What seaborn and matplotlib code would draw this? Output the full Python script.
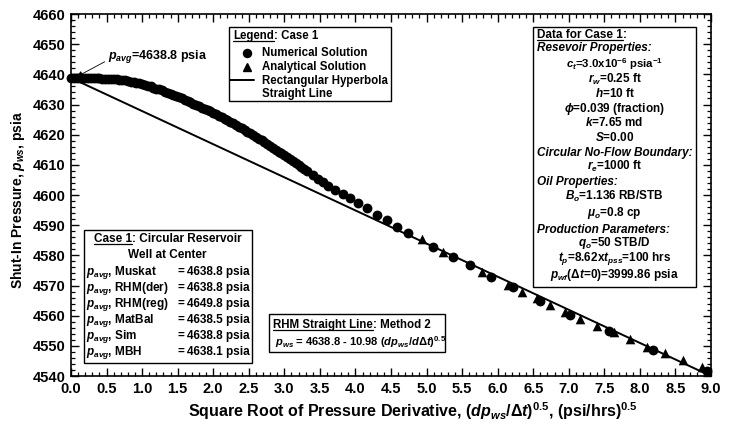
import matplotlib
matplotlib.use("Agg")
import numpy as np
import pandas as pd
import matplotlib.pyplot as plt
import matplotlib.transforms as mtransforms
from matplotlib.lines import Line2D
from matplotlib.patches import Rectangle
from matplotlib.ticker import MultipleLocator, FormatStrFormatter
import seaborn as sns

# Numerical solution: square root of derivative vs shut-in pressure
num_x = [0.00, 0.04, 0.08, 0.12, 0.16, 0.20, 0.24, 0.28, 0.32, 0.36,
         0.40, 0.44, 0.48, 0.52, 0.56, 0.60, 0.64, 0.68, 0.72, 0.76,
         0.80, 0.84, 0.88, 0.92, 0.96, 1.00, 1.04, 1.08, 1.12, 1.16,
         1.20, 1.24, 1.28, 1.32, 1.36, 1.40, 1.44, 1.48, 1.52, 1.56,
         1.60, 1.64, 1.68, 1.72, 1.76, 1.80, 1.84, 1.88, 1.92, 1.96,
         2.00, 2.04, 2.08, 2.12, 2.16, 2.20, 2.24, 2.28, 2.32, 2.36,
         2.40, 2.44, 2.48, 2.52, 2.56, 2.60, 2.64, 2.68, 2.72, 2.76,
         2.80, 2.84, 2.88, 2.92, 2.96, 3.00, 3.04, 3.08, 3.12, 3.16,
         3.20, 3.24, 3.28, 3.32, 3.40, 3.47, 3.54, 3.62, 3.71, 3.82,
         3.92, 4.04, 4.16, 4.30, 4.44, 4.58, 4.74, 5.09, 5.37, 5.61,
         5.90, 6.21, 6.59, 7.02, 7.56, 8.19, 8.95]
num_p = [4638.8, 4638.8, 4638.8, 4638.8, 4638.8, 4638.8, 4638.8, 4638.8, 4638.7, 4638.7,
         4638.7, 4638.6, 4638.5, 4638.5, 4638.4, 4638.3, 4638.3, 4638.2, 4638.1, 4638.0,
         4637.8, 4637.6, 4637.4, 4637.2, 4637.0, 4636.8, 4636.5, 4636.2, 4636.0, 4635.6,
         4635.3, 4635.0, 4634.7, 4634.3, 4633.9, 4633.6, 4633.2, 4632.8, 4632.4, 4632.0,
         4631.6, 4631.2, 4630.8, 4630.3, 4629.9, 4629.5, 4629.0, 4628.6, 4628.1, 4627.7,
         4627.2, 4626.7, 4626.2, 4625.8, 4625.3, 4624.8, 4624.3, 4623.8, 4623.2, 4622.7,
         4622.1, 4621.6, 4621.0, 4620.4, 4619.9, 4619.3, 4618.7, 4618.1, 4617.5, 4616.9,
         4616.3, 4615.7, 4615.0, 4614.4, 4613.8, 4613.1, 4612.5, 4611.8, 4611.2, 4610.5,
         4609.8, 4609.2, 4608.5, 4607.8, 4606.6, 4605.3, 4604.3, 4603.0, 4601.7, 4600.2,
         4598.9, 4597.2, 4595.6, 4593.4, 4591.7, 4589.5, 4587.3, 4582.9, 4579.6, 4576.8,
         4572.9, 4569.4, 4565.0, 4560.2, 4555.0, 4548.6, 4541.6]

# Analytical solution
ana_x = [4.93, 5.23, 5.78, 6.15, 6.34, 6.55, 6.74, 6.95, 7.16, 7.39,
         7.63, 7.86, 8.10, 8.36, 8.61, 8.87]
ana_p = [4585.3, 4581.2, 4574.6, 4570.2, 4568.0, 4565.8, 4563.5, 4561.3, 4558.8, 4556.6,
         4554.7, 4552.2, 4549.7, 4547.5, 4545.3, 4543.1]

# RHM straight line (method 2): p_ws = p_avg - slope * x
p_avg = 4638.8
slope = 10.98
line_x = [0.0, 9.0]

# p_avg estimates by method
methods = ["Muskat", "RHM(der)", "RHM(reg)", "MatBal", "Sim", "MBH"]
method_pavg = [4638.8, 4638.8, 4649.8, 4638.5, 4638.8, 4638.1]

num_df = pd.DataFrame({"x": num_x, "p": num_p})
ana_df = pd.DataFrame({"x": ana_x, "p": ana_p})
line_df = pd.DataFrame({"x": line_x, "p": [p_avg - slope * v for v in line_x]})

sns.set_theme(style="ticks")
plt.rcParams["font.family"] = ["Liberation Sans", "DejaVu Sans"]
plt.rcParams["font.weight"] = "bold"
plt.rcParams["mathtext.fontset"] = "custom"
plt.rcParams["mathtext.rm"] = "Liberation Sans:bold"
plt.rcParams["mathtext.bf"] = "Liberation Sans:bold"
plt.rcParams["mathtext.it"] = "Liberation Sans:bold:italic"
plt.rcParams["mathtext.sf"] = "Liberation Sans:bold"

W, H = 730, 424
fig = plt.figure(figsize=(W / 100, H / 100), dpi=100)
fig.patch.set_facecolor("white")
ax = fig.add_axes([71 / W, 1 - 376 / H, 640 / W, 362 / H])
# pixel coordinates measured from the top-left corner of the figure
pix = mtransforms.Affine2D().scale(1 / W, -1 / H).translate(0, 1) + fig.transFigure

sns.lineplot(data=line_df, x="x", y="p", ax=ax, color="black", linewidth=1.4, zorder=2)
sns.scatterplot(data=ana_df, x="x", y="p", ax=ax, marker="^", s=48, color="black",
                edgecolor="black", linewidth=0, zorder=3, clip_on=False)
sns.scatterplot(data=num_df, x="x", y="p", ax=ax, marker="o", s=50, color="black",
                edgecolor="black", linewidth=0, zorder=4, clip_on=False)

ax.set_xlim(0, 9)
ax.set_ylim(4540, 4660)
ax.xaxis.set_major_locator(MultipleLocator(0.5))
ax.xaxis.set_minor_locator(MultipleLocator(0.1))
ax.yaxis.set_major_locator(MultipleLocator(10))
ax.yaxis.set_minor_locator(MultipleLocator(2))
ax.xaxis.set_major_formatter(FormatStrFormatter("%.1f"))
ax.tick_params(which="both", direction="in", top=True, right=True, bottom=True, left=True,
               color="black", labelsize=10.5, labelcolor="black")
ax.tick_params(which="major", length=5.5, width=1.0, pad=4)
ax.tick_params(which="minor", length=2.8, width=0.9)
for sp in ax.spines.values():
    sp.set_color("black")
    sp.set_linewidth(1.2)
    sp.set_visible(True)

ax.set_xlabel(r"Square Root of Pressure Derivative, $(dp_{ws}/\Delta t)^{0.5}$, (psi/hrs)$^{0.5}$",
              fontsize=11.5, fontweight="bold", color="black")
ax.xaxis.set_label_coords((413 - 71) / 640, -0.068)
ax.set_ylabel(r"Shut-In Pressure, $p_{ws}$, psia", fontsize=10, fontweight="bold",
              color="black")
ax.yaxis.set_label_coords(-0.068, 0.485)

renderer = fig.canvas.get_renderer()


def text_width(s, size, style="normal"):
    t = fig.text(0, 0, s, fontsize=size, fontweight="bold", fontstyle=style)
    w = t.get_window_extent(renderer).width
    t.remove()
    return w


def underlined(x, y, first, rest, size, ha="left", style="normal"):
    """Draw `first` underlined followed by `rest`, baseline at pixel y."""
    w1 = text_width(first, size, style)
    if ha == "center":
        x = x - text_width(first + rest, size, style) / 2
    fig.text(x, y, first, transform=pix, fontsize=size, fontweight="bold",
             fontstyle=style, va="baseline", ha="left", color="black", zorder=6)
    fig.text(x + w1, y, rest, transform=pix, fontsize=size, fontweight="bold",
             fontstyle=style, va="baseline", ha="left", color="black", zorder=6)
    fig.add_artist(Line2D([x, x + w1], [y + 1.8, y + 1.8], transform=pix,
                          color="black", linewidth=0.9, zorder=6))


def box(x0, y0, x1, y1):
    fig.add_artist(Rectangle((x0, y0), x1 - x0, y1 - y0, transform=pix, facecolor="white",
                             edgecolor="black", linewidth=1.0, zorder=5))


def txt(x, y, s, size=8.5, ha="left", style="normal"):
    fig.text(x, y, s, transform=pix, fontsize=size, fontweight="bold", fontstyle=style,
             ha=ha, va="baseline", color="black", zorder=6)


fs = 8.5

# Legend box
box(229, 27, 391, 101)
underlined(233, 39, "Legend", ": Case 1", 8.3)
fig.add_artist(Line2D([247], [53], transform=pix, marker="o", markersize=5.8,
                      color="black", linestyle="none", zorder=6))
fig.add_artist(Line2D([247], [67], transform=pix, marker="^", markersize=6.3,
                      color="black", linestyle="none", zorder=6))
fig.add_artist(Line2D([230, 254], [80, 80], transform=pix, color="black",
                      linewidth=1.4, zorder=6))
txt(262, 56, "Numerical Solution", 8.3)
txt(262, 70, "Analytical Solution", 8.3)
txt(262, 84, "Rectangular Hyperbola", 8.3)
txt(262, 97, "Straight Line", 8.3)

# Case data box
box(533, 27, 696, 287)
cx = 614.5
underlined(537, 38, "Data for Case 1", ":", fs)
txt(537, 51, "Resevoir Properties:", fs, style="italic")
txt(cx, 68, r"$c_t$=3.0x10$^{-6}$ psia$^{-1}$", 8.2, ha="center")
txt(cx, 83, r"$r_w$=0.25 ft", fs, ha="center")
txt(cx, 97, r"$h$=10 ft", fs, ha="center")
txt(cx, 112, r"$\phi$=0.039 (fraction)", fs, ha="center")
txt(cx, 126, r"$k$=7.65 md", fs, ha="center")
txt(cx, 141, r"$S$=0.00", fs, ha="center")
txt(537, 156, "Circular No-Flow Boundary:", fs, style="italic")
txt(cx, 170, r"$r_e$=1000 ft", fs, ha="center")
txt(537, 185, "Oil Properties:", fs, style="italic")
txt(cx, 200, r"$B_o$=1.136 RB/STB", fs, ha="center")
txt(cx, 216, r"$\mu_o$=0.8 cp", fs, ha="center")
txt(537, 233, "Production Parameters:", fs, style="italic")
txt(cx, 246, r"$q_o$=50 STB/D", fs, ha="center")
txt(cx, 261, r"$t_p$=8.62x$t_{pss}$=100 hrs", fs, ha="center")
txt(cx, 278, r"$p_{wf}(\Delta t$=0)=3999.86 psia", fs, ha="center")

# Comparison of average-pressure estimates
box(84, 230, 252, 363)
underlined(167.5, 242, "Case 1", ": Circular Reservoir", fs, ha="center")
txt(167.5, 258, "Well at Center", fs, ha="center")
for i, (m, v) in enumerate(zip(methods, method_pavg)):
    yb = 275 + 16 * i
    txt(86, yb, r"$p_{avg}$, " + m, fs)
    txt(177, yb, "=", fs)
    txt(250, yb, f"{v:.1f} psia", fs, ha="right")

# Straight line equation box
box(269, 314, 445, 352)
underlined(273, 328, "RHM Straight Line", ": Method 2", 8.3)
txt(275, 346, r"$p_{ws}$ = " + f"{p_avg:.1f} - {slope:.2f} " + r"$(dp_{ws}/d\Delta t)^{0.5}$", 8.0)

# Average pressure callout
ax.annotate(r"$p_{avg}$=" + f"{p_avg:.1f} psia", xy=(0.08, p_avg + 0.4), xycoords="data",
            xytext=(108, 59), textcoords=pix, fontsize=9, fontweight="bold",
            ha="left", va="baseline", color="black",
            arrowprops=dict(arrowstyle="-|>", color="black", lw=0.6,
                            mutation_scale=9, shrinkA=0, shrinkB=0,
                            relpos=(0, 0.3)))

fig.savefig("out.png", dpi=100, facecolor="white")
